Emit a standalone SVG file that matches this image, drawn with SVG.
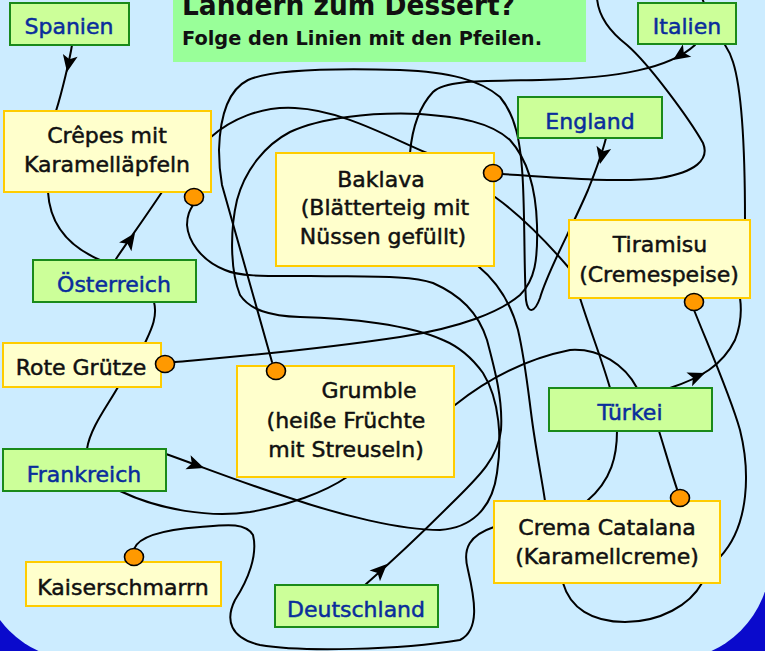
<svg xmlns="http://www.w3.org/2000/svg" width="765" height="651" viewBox="0 0 765 651">
<defs>
<style>
.ln{fill:none;stroke:#000;stroke-width:2;stroke-linecap:round}
.cb{fill:#CCFF99;stroke:#1A8A1A;stroke-width:2}
.db{fill:#FFFFCC;stroke:#FFCC00;stroke-width:2}
.ct{font-family:"DejaVu Sans",sans-serif;font-size:22px;fill:#0A2D9C;stroke:#0A2D9C;stroke-width:0.5;text-anchor:middle}
.dt{font-family:"DejaVu Sans",sans-serif;font-size:22px;fill:#111;stroke:#111;stroke-width:0.5;text-anchor:middle}
.dot{fill:#FF9900;stroke:#000;stroke-width:1.6}
.tt{font-family:"DejaVu Sans",sans-serif;font-weight:bold;fill:#111}
</style>
<path id="ah" d="M0,0 L-17,-7.5 L-13,0 L-17,7.5 Z" fill="#000"/>
</defs>
<rect x="0" y="0" width="765" height="651" fill="#0A0ACC"/>
<rect x="-20" y="-100" width="790" height="760" rx="100" ry="100" fill="#CCECFF"/>
<g id="title">
<rect x="173" y="-10" width="413" height="72" fill="#99FF99"/>
<text class="tt" x="182" y="15" font-size="29" textLength="333" lengthAdjust="spacingAndGlyphs">Ländern zum Dessert?</text>
<text class="tt" x="182" y="45" font-size="20" textLength="360" lengthAdjust="spacingAndGlyphs">Folge den Linien mit den Pfeilen.</text>
</g>
<g id="connectors">
<path class="ln" d="M72,45 C70,58 62,92 56,111 M48,192 C50,228 72,248 100,260 M154,302 C158,318 150,332 145,343 M118,387 C108,405 90,428 87,449 M120,491 C160,510 210,518 250,512 C290,505 325,492 347,477"/>
<path class="ln" d="M116,259 C125,245 140,225 162,192 M211,137 C230,120 260,106 295,108 C340,110 385,135 427,153"/>
<path class="ln" d="M606,138 C603,150 598,165 588,190 C570,232 548,270 540,298 C535,312 528,315 526,300 C524,270 525,230 523,185 C521,140 515,115 500,97 C480,80 450,72 400,70 C330,68 270,70 248,80 C228,90 220,115 219,150 C219,168 222,185 222,185 L272,362"/>
<path class="ln" d="M695,45 C670,68 620,78 540,80 C480,81 445,80 433,92 C418,108 412,130 410,153"/>
<path class="ln" d="M670,388 C700,378 722,366 735,340 C742,322 741,305 740,298 M745,220 C745,150 742,90 733,62 C730,52 727,48 725,45 M704,3 L702,-2 M597,-2 C598,12 605,28 627,45 C650,65 690,120 703,143 C710,160 695,172 660,178 C620,183 560,178 502,174"/>
<path class="ln" d="M694,310 C710,350 730,395 740,430 C750,470 750,525 720,557"/>
<path class="ln" d="M563,583 C570,608 592,622 625,622 C660,622 690,605 702,583"/>
<path class="ln" d="M680,498 C672,475 665,450 659,431"/>
<path class="ln" d="M617,431 C617,455 612,480 587,501"/>
<path class="ln" d="M455,405 C480,385 520,360 570,350 C600,348 625,365 637,388"/>
<path class="ln" d="M495,197 C520,215 545,240 569,268 M580,298 C590,330 602,360 610,388"/>
<path class="ln" d="M478,266 C495,280 510,300 518,330 C525,360 528,390 532,420 C536,450 542,480 545,501"/>
<path class="ln" d="M166,454 C200,466 240,482 290,498 C340,515 400,530 440,530 C470,528 492,510 497,473 C502,440 500,400 483,373 C470,355 455,345 443,340 C410,325 350,318 300,317 C270,316 250,310 240,295 C230,270 230,230 237,200 C245,170 265,145 290,132 C320,118 370,112 420,114 C460,117 490,122 510,140 C528,160 536,190 537,225 C538,260 535,280 520,295 C500,312 460,328 400,337 C300,352 220,358 175,362"/>
<path class="ln" d="M365,585 C390,563 420,535 450,505 C475,480 498,460 501,430 C503,400 495,370 487,340 C478,312 460,295 433,283 C410,275 370,277 310,276 C270,276 240,277 225,270 C200,260 188,240 187,225 C187,215 190,210 193,205"/>
<path class="ln" d="M134,549 C138,538 160,530 200,527 C225,525 245,522 253,535 C258,555 248,580 235,600 C225,620 230,638 260,645 C300,652 400,650 460,640 C480,630 475,600 468,570 C462,548 470,535 494,527"/>
<use href="#ah" transform="translate(67,72) rotate(101)"/>
<use href="#ah" transform="translate(135,233) rotate(-55)"/>
<use href="#ah" transform="translate(673,60) rotate(146)"/>
<use href="#ah" transform="translate(600,164) rotate(103)"/>
<use href="#ah" transform="translate(204,468) rotate(20)"/>
<use href="#ah" transform="translate(705,373) rotate(-22)"/>
<use href="#ah" transform="translate(387,564) rotate(-44)"/>
</g>
<g id="spanien"><rect class="cb" x="10" y="3" width="119" height="42"/><text class="ct" x="69" y="34">Spanien</text></g>
<g id="italien"><rect class="cb" x="638" y="3" width="98" height="41"/><text class="ct" x="687" y="34">Italien</text></g>
<g id="england"><rect class="cb" x="518" y="97" width="144" height="41"/><text class="ct" x="590" y="129">England</text></g>
<g id="oesterreich"><rect class="cb" x="33" y="260" width="163" height="42"/><text class="ct" x="114" y="292">Österreich</text></g>
<g id="frankreich"><rect class="cb" x="3" y="449" width="163" height="42"/><text class="ct" x="84" y="482">Frankreich</text></g>
<g id="tuerkei"><rect class="cb" x="549" y="388" width="163" height="43"/><text class="ct" x="630" y="420">Türkei</text></g>
<g id="deutschland"><rect class="cb" x="275" y="585" width="163" height="42"/><text class="ct" x="356" y="617">Deutschland</text></g>
<g id="crepes"><rect class="db" x="4" y="111" width="207" height="81"/><text class="dt" x="107" y="143">Crêpes mit</text><text class="dt" x="107" y="172">Karamelläpfeln</text><ellipse class="dot" cx="194" cy="197" rx="9.5" ry="8.5"/></g>
<g id="baklava"><rect class="db" x="276" y="153" width="218" height="113"/><text class="dt" x="381" y="187">Baklava</text><text class="dt" x="385" y="215">(Blätterteig mit</text><text class="dt" x="383" y="244">Nüssen gefüllt)</text><ellipse class="dot" cx="493" cy="173" rx="9.5" ry="8.5"/></g>
<g id="tiramisu"><rect class="db" x="569" y="220" width="181" height="78"/><text class="dt" x="660" y="252">Tiramisu</text><text class="dt" x="659" y="282">(Cremespeise)</text><ellipse class="dot" cx="694" cy="302" rx="9.5" ry="8.5"/></g>
<g id="rotegruetze"><rect class="db" x="3" y="343" width="158" height="44"/><text class="dt" x="81" y="375">Rote Grütze</text><ellipse class="dot" cx="165" cy="364" rx="9.5" ry="8.5"/></g>
<g id="grumble"><rect class="db" x="237" y="366" width="217" height="111"/><text class="dt" x="369" y="398">Grumble</text><text class="dt" x="346" y="428">(heiße Früchte</text><text class="dt" x="346" y="457">mit Streuseln)</text><ellipse class="dot" cx="276" cy="371" rx="9.5" ry="8.5"/></g>
<g id="crema"><rect class="db" x="494" y="501" width="226" height="82"/><text class="dt" x="607" y="535">Crema Catalana</text><text class="dt" x="607" y="564">(Karamellcreme)</text><ellipse class="dot" cx="680" cy="498" rx="9.5" ry="8.5"/></g>
<g id="kaiserschmarrn"><rect class="db" x="26" y="562" width="195" height="44"/><text class="dt" x="123" y="595">Kaiserschmarrn</text><ellipse class="dot" cx="134" cy="557" rx="9.5" ry="8.5"/></g>
</svg>
